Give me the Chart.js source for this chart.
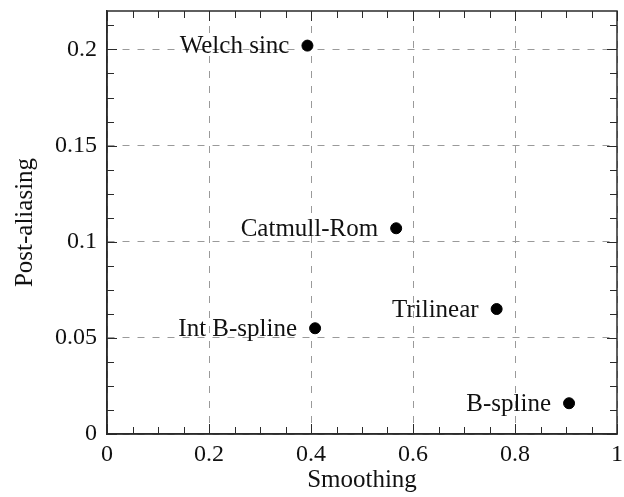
<!DOCTYPE html>
<html>
<head>
<meta charset="utf-8">
<script src="https://cdn.jsdelivr.net/npm/chart.js@4"></script>
<style>
  html, body { margin: 0; padding: 0; background: #fff; }
  #wrap { width: 624px; height: 497px; }
</style>
</head>
<body>
<div id="wrap"><canvas id="chart" width="624" height="497"></canvas></div>
<script>
// Filters: smoothing vs post-aliasing
const names = ['Welch sinc', 'Catmull-Rom', 'Int B-spline', 'Trilinear', 'B-spline'];
const smoothing = [0.393, 0.567, 0.408, 0.764, 0.906];
const postAliasing = [0.202, 0.107, 0.055, 0.065, 0.016];

const xTicks = [0, 0.2, 0.4, 0.6, 0.8, 1];
const yTicks = [0, 0.05, 0.1, 0.15, 0.2];
const xMinorStep = 0.05;
const yMinorStep = 0.0125;

const FONT = 'Liberation Serif';
const INK = '#2b2b2b';

// Frame box plus the little inward ticks (major + minor) on all 4 sides
const frameTicks = {
  id: 'frameTicks',
  afterDraw(chart) {
    const { ctx, chartArea: a, scales: { x, y } } = chart;
    ctx.save();
    ctx.strokeStyle = INK;
    ctx.lineWidth = 1;
    const tick = (px, len, vertical) => {
      ctx.beginPath();
      if (vertical) {
        ctx.moveTo(px, a.bottom); ctx.lineTo(px, a.bottom - len);
        ctx.moveTo(px, a.top); ctx.lineTo(px, a.top + len);
      } else {
        ctx.moveTo(a.left, px); ctx.lineTo(a.left + len, px);
        ctx.moveTo(a.right, px); ctx.lineTo(a.right - len, px);
      }
      ctx.stroke();
    };
    for (let v = 0; v <= x.max + 1e-9; v += xMinorStep) {
      const major = xTicks.some(t => Math.abs(t - v) < 1e-9);
      tick(Math.round(x.getPixelForValue(v)) + 0.5, major ? 10 : 7, true);
    }
    for (let v = 0; v <= y.max + 1e-9; v += yMinorStep) {
      const major = yTicks.some(t => Math.abs(t - v) < 1e-9);
      tick(Math.round(y.getPixelForValue(v)) + 0.5, major ? 10 : 7, false);
    }
    ctx.lineWidth = 1.5;
    ctx.strokeRect(a.left, a.top, a.right - a.left, a.bottom - a.top);
    ctx.restore();
  }
};

// Name of each filter, written to the left of its dot
const pointNames = {
  id: 'pointNames',
  afterDatasetsDraw(chart) {
    const { ctx } = chart;
    const meta = chart.getDatasetMeta(0);
    ctx.save();
    ctx.font = `25px "${FONT}"`;
    ctx.fillStyle = '#111';
    ctx.textAlign = 'right';
    ctx.textBaseline = 'middle';
    meta.data.forEach((pt, i) => {
      ctx.fillText(names[i], pt.x - 18, pt.y + 1);
    });
    ctx.restore();
  }
};

const tickFont = { family: FONT, size: 24 };
const titleFont = { family: FONT, size: 25 };

new Chart(document.getElementById('chart'), {
  type: 'scatter',
  data: {
    datasets: [{
      data: smoothing.map((s, i) => ({ x: s, y: postAliasing[i] })),
      backgroundColor: '#000',
      borderColor: '#000',
      pointRadius: 5.5,
      pointHoverRadius: 5.5
    }]
  },
  options: {
    responsive: false,
    animation: false,
    layout: { padding: { top: 11, right: 7, left: 0, bottom: 0 } },
    plugins: { legend: { display: false }, tooltip: { enabled: false } },
    scales: {
      x: {
        type: 'linear',
        min: 0, max: 1,
        afterBuildTicks: s => { s.ticks = xTicks.map(v => ({ value: v })); },
        afterFit: s => { s.height = 63; s.paddingLeft = 0; s.paddingRight = 0; },
        grid: { color: '#9a9a9a', lineWidth: 1, drawTicks: false },
        border: { color: INK, width: 1.5, dash: [7, 8] },
        ticks: { color: '#111', font: tickFont, padding: 6, maxRotation: 0, callback: v => String(v) },
        title: { display: true, text: 'Smoothing', color: '#111', font: titleFont, padding: { top: 0, bottom: 2 } }
      },
      y: {
        type: 'linear',
        min: 0, max: 0.22,
        afterBuildTicks: s => { s.ticks = yTicks.map(v => ({ value: v })); },
        afterFit: s => { s.width = 107; s.paddingTop = 0; s.paddingBottom = 0; },
        grid: { color: '#9a9a9a', lineWidth: 1, drawTicks: false },
        border: { color: INK, width: 1.5, dash: [7, 8] },
        ticks: { color: '#111', font: tickFont, padding: 10, callback: v => String(v) },
        title: { display: true, text: 'Post-aliasing', color: '#111', font: titleFont, padding: { top: 10, bottom: 0 } }
      }
    }
  },
  plugins: [frameTicks, pointNames]
});
</script>
</body>
</html>
